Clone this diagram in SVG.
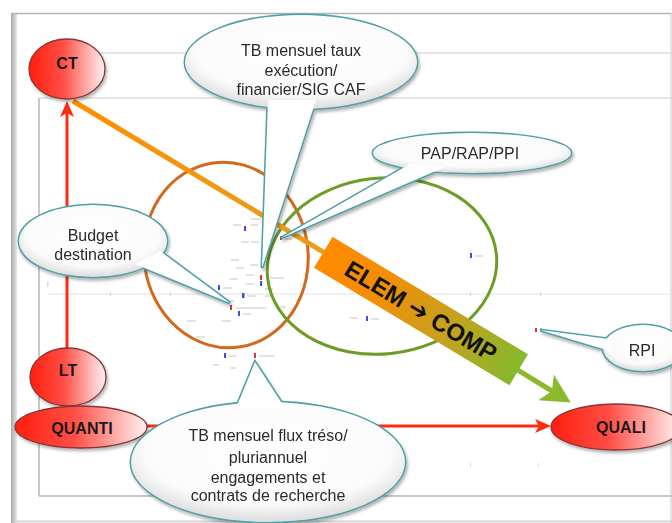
<svg xmlns="http://www.w3.org/2000/svg" width="672" height="523" viewBox="0 0 672 523">
<defs>
<linearGradient id="ng" x1="0" y1="0" x2="1" y2="0">
<stop offset="0" stop-color="#ff1e0e"/>
<stop offset="0.45" stop-color="#ff4f46"/>
<stop offset="1" stop-color="#fff4f4"/>
</linearGradient>
<radialGradient id="cg" cx="0.5" cy="0.4" r="0.6">
<stop offset="0" stop-color="#ffffff"/>
<stop offset="0.75" stop-color="#fbfbfb"/>
<stop offset="1" stop-color="#dcdcdc"/>
</radialGradient>
<linearGradient id="bg" x1="0" y1="0" x2="1" y2="0">
<stop offset="0" stop-color="#ff8a00"/>
<stop offset="0.3" stop-color="#f28e05"/>
<stop offset="0.65" stop-color="#c4a21f"/>
<stop offset="1" stop-color="#86b92c"/>
</linearGradient>
<linearGradient id="lg" gradientUnits="userSpaceOnUse" x1="73" y1="101" x2="421" y2="311">
<stop offset="0" stop-color="#ff8e00"/>
<stop offset="1" stop-color="#dca728"/>
</linearGradient>
<linearGradient id="fr" x1="0" y1="0" x2="1" y2="0">
<stop offset="0" stop-color="#a8a8a8"/>
<stop offset="1" stop-color="#e8e8e8"/>
</linearGradient>
<filter id="sh" x="-20%" y="-20%" width="140%" height="150%">
<feDropShadow dx="1.5" dy="2.5" stdDeviation="1.8" flood-color="#000" flood-opacity="0.3"/>
</filter>
<marker id="ra" markerUnits="userSpaceOnUse" markerWidth="16" markerHeight="16" refX="4" refY="8" orient="auto">
<path d="M0,1 L16,8 L0,15 L4,8 z" fill="#ff2a10"/>
</marker>
<marker id="ga" markerUnits="userSpaceOnUse" markerWidth="30" markerHeight="32" refX="7" refY="16" orient="auto">
<path d="M0,1 L29,16 L0,31 L7,16 z" fill="#8cba2c"/>
</marker>
<style>
.grid{stroke:#dcdcdc;stroke-width:1.5;fill:none}
.node{fill:url(#ng);stroke:#8a3434;stroke-width:1.3;filter:url(#sh)}
.nl{font-family:"Liberation Sans",Arial,sans-serif;font-weight:bold;font-size:16px;fill:#1a1a1a;text-anchor:middle}
.cs{fill:#fff;stroke:#4f9fa6;stroke-width:3}
.cf{fill:url(#cg);stroke:none}
.tf{fill:#fff;stroke:none}
.ct{font-family:"Liberation Sans",Arial,sans-serif;font-size:16px;fill:#2a2a2a;text-anchor:middle}
.red{stroke:#ff2a10;stroke-width:3;fill:none}
.dl{fill:#e2e2e2}
.bm{fill:#3d4de8}
.rm{fill:#ee3030}
</style>
</defs>
<rect x="0" y="0" width="672" height="523" fill="#ffffff"/>
<!-- frame -->
<rect x="11" y="13" width="6" height="510" fill="url(#fr)"/>
<line x1="11" y1="13.5" x2="672" y2="13.5" stroke="#b4b4b4" stroke-width="1.5"/>
<line x1="671" y1="13" x2="671" y2="523" stroke="#d8d8d8" stroke-width="1.5"/>
<line x1="17" y1="521.5" x2="672" y2="521.5" stroke="#d4d4d4" stroke-width="2"/>
<line class="grid" x1="100" y1="53" x2="672" y2="53"/>
<line class="grid" x1="39" y1="98" x2="672" y2="98"/>
<line x1="39" y1="98" x2="39" y2="496" stroke="#c8c8c8" stroke-width="2"/>
<line x1="39" y1="496" x2="672" y2="496" stroke="#c8c8c8" stroke-width="2"/>
<line x1="48" y1="294" x2="672" y2="294" stroke="#e2e2e2" stroke-width="1"/>
<g fill="#d8d8d8">
<rect x="47" y="282" width="1.5" height="5"/>
<rect x="110" y="292" width="1" height="4"/>
<rect x="170" y="292" width="1" height="4"/>
<rect x="360" y="292" width="1" height="4"/>
<rect x="470" y="292" width="1" height="4"/>
<rect x="540" y="292" width="1" height="4"/>
<rect x="404" y="463" width="1" height="4"/>
<rect x="470" y="463" width="1" height="4"/>
<rect x="538" y="463" width="1" height="4"/>
</g>
<!-- data marks -->
<g id="marks">
<rect class="dl" x="233" y="224" width="8" height="2"/><rect class="dl" x="250" y="224" width="8" height="2"/>
<rect class="bm" x="244" y="226" width="2" height="5"/>
<rect class="dl" x="241" y="241" width="8" height="2"/><rect class="dl" x="251" y="241" width="8" height="2"/>
<rect class="dl" x="251" y="218" width="10" height="2"/>
<rect class="dl" x="231" y="259" width="8" height="2"/><rect class="dl" x="236" y="267" width="8" height="2"/>
<rect class="dl" x="250" y="264" width="8" height="2"/><rect class="dl" x="246" y="274" width="8" height="2"/>
<rect class="dl" x="230" y="278" width="8" height="2"/><rect class="dl" x="270" y="277" width="14" height="2"/>
<rect class="rm" x="260" y="275" width="2" height="5"/>
<rect class="bm" x="260" y="281" width="2" height="5"/><rect class="dl" x="246" y="283" width="8" height="2"/>
<rect class="dl" x="265" y="288" width="8" height="2"/>
<rect class="bm" x="218" y="285" width="2" height="5"/><rect class="dl" x="223" y="287" width="9" height="2"/>
<rect class="bm" x="242" y="293" width="2.5" height="5"/><rect class="dl" x="247" y="295" width="9" height="2"/>
<rect class="dl" x="265" y="295" width="8" height="2"/>
<rect class="dl" x="226" y="300" width="8" height="2"/>
<rect class="rm" x="230" y="305" width="2" height="5"/><rect class="dl" x="236" y="307" width="30" height="2"/>
<rect class="dl" x="280" y="306" width="6" height="2"/>
<rect class="bm" x="238" y="311" width="2" height="5"/><rect class="dl" x="243" y="313" width="8" height="2"/>
<rect class="dl" x="187" y="320" width="9" height="2"/><rect class="dl" x="222" y="320" width="9" height="2"/>
<rect class="dl" x="196" y="336" width="9" height="2"/>
<rect class="rm" x="280" y="236" width="2" height="4"/><rect class="dl" x="284" y="238" width="8" height="2"/>
<rect class="bm" x="470" y="253" width="2" height="5"/><rect class="dl" x="475" y="255" width="8" height="2"/>
<rect class="dl" x="350" y="317" width="8" height="2"/>
<rect class="bm" x="366" y="316" width="2" height="5"/><rect class="dl" x="371" y="318" width="8" height="2"/>
<rect class="dl" x="362" y="352" width="8" height="2"/>
<rect class="rm" x="535" y="328" width="2" height="4"/>
<rect class="bm" x="224" y="353" width="2" height="5"/><rect class="dl" x="228" y="355" width="8" height="2"/>
<rect class="rm" x="254" y="353" width="2" height="5"/><rect class="dl" x="259" y="355" width="16" height="2"/>
<rect class="dl" x="213" y="364" width="6" height="2"/><rect class="dl" x="230" y="367" width="6" height="2"/>
</g>
<!-- ellipses -->
<ellipse cx="226" cy="255" rx="82" ry="93" transform="rotate(-8 226 255)" fill="none" stroke="#d2691e" stroke-width="3"/>
<ellipse cx="382" cy="266" rx="115" ry="88" transform="rotate(-6 382 266)" fill="none" stroke="#6e9c28" stroke-width="3"/>
<!-- connectors -->
<g id="connectors">
<line class="red" x1="67" y1="348" x2="67" y2="113" marker-end="url(#ra)"/>
<line class="red" x1="146" y1="426" x2="539" y2="426" marker-end="url(#ra)"/>
<line x1="73" y1="101" x2="421" y2="311" stroke="url(#lg)" stroke-width="5"/>
<line x1="421" y1="311" x2="552" y2="391" stroke="#8cb82c" stroke-width="5" marker-end="url(#ga)"/>
</g>
<g id="elemcomp" transform="translate(421 311) rotate(31)">
<rect x="-114" y="-18" width="228" height="36" fill="url(#bg)"/>
<text x="0" y="8.5" font-family="'Liberation Sans','DejaVu Sans',sans-serif" font-weight="bold" font-size="24" fill="#111" text-anchor="middle">ELEM ➔ COMP</text>
</g>
<!-- nodes -->
<g id="ct"><ellipse class="node" cx="67" cy="69" rx="38" ry="30"/><text class="nl" x="67" y="69">CT</text></g>
<g id="lt"><ellipse class="node" cx="68" cy="377" rx="38" ry="29"/><text class="nl" x="68" y="376">LT</text></g>
<g id="quanti"><ellipse class="node" cx="81" cy="427" rx="66" ry="21"/><text class="nl" x="82" y="434">QUANTI</text></g>
<g id="quali"><ellipse class="node" cx="616" cy="427" rx="65" ry="23"/><text class="nl" x="621" y="433">QUALI</text></g>
<!-- callouts -->
<g id="callout-taux" filter="url(#sh)">
<ellipse class="cs" cx="301" cy="62" rx="116" ry="47"/>
<polygon class="cs" points="268,100 316,100 262,268"/>
<ellipse class="cf" cx="301" cy="62" rx="116" ry="47"/>
<polygon class="tf" points="268,100 316,100 262,268"/>
<text class="ct" x="301" y="56">TB mensuel taux</text>
<text class="ct" x="301" y="76">exécution/</text>
<text class="ct" x="301" y="95">financier/SIG CAF</text>
</g>
<g id="callout-pap" filter="url(#sh)">
<ellipse class="cs" cx="472" cy="153" rx="99" ry="20"/>
<polygon class="cs" points="410,164 445,167 281,238"/>
<ellipse class="cf" cx="472" cy="153" rx="99" ry="20"/>
<polygon class="tf" points="410,164 445,167 281,238"/>
<text class="ct" x="470" y="159">PAP/RAP/PPI</text>
</g>
<g id="callout-budget" filter="url(#sh)">
<ellipse class="cs" cx="93" cy="241" rx="74" ry="36"/>
<polygon class="cs" points="135,264 160,251 230,303"/>
<ellipse class="cf" cx="93" cy="241" rx="74" ry="36"/>
<polygon class="tf" points="135,264 160,251 230,303"/>
<text class="ct" x="93" y="241">Budget</text>
<text class="ct" x="93" y="260">destination</text>
</g>
<g id="callout-rpi" filter="url(#sh)">
<ellipse class="cs" cx="643" cy="348" rx="40" ry="23"/>
<polygon class="cs" points="609,339 613,352 540,330"/>
<ellipse class="cf" cx="643" cy="348" rx="40" ry="23"/>
<polygon class="tf" points="609,339 613,352 540,330"/>
<text class="ct" x="642" y="356">RPI</text>
</g>
<g id="callout-flux" filter="url(#sh)">
<ellipse class="cs" cx="268" cy="462" rx="137" ry="60"/>
<polygon class="cs" points="236,408 285,408 255,362"/>
<ellipse class="cf" cx="268" cy="462" rx="137" ry="60"/>
<polygon class="tf" points="236,408 285,408 255,362"/>
<text class="ct" x="268" y="441">TB mensuel flux tréso/</text>
<text class="ct" x="268" y="463">pluriannuel</text>
<text class="ct" x="268" y="483">engagements et</text>
<text class="ct" x="268" y="501">contrats de recherche</text>
</g>
</svg>
